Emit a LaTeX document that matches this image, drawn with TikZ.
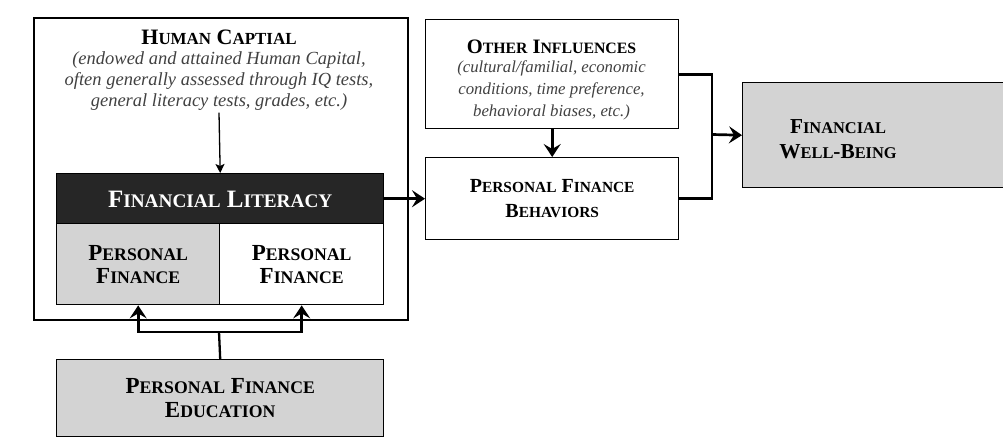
\documentclass[tikz,border=0pt]{standalone}
\usepackage{fontspec}
\setmainfont{Liberation Serif}
\usetikzlibrary{arrows.meta}

\definecolor{boxgrey}{RGB}{211,211,211}
\definecolor{darkfill}{RGB}{38,38,38}
\definecolor{notegrey}{RGB}{65,65,65}

% hand-made bold small caps: full-size initial, capitals at 77% after it
\makeatletter
\newcommand\scw[2]{#1{\fontsize{\fpeval{0.77*\f@size}}{\f@baselineskip}\selectfont\MakeUppercase{#2}}}
\makeatother
\newcommand\tsize[2]{\fontsize{#1}{#2}\selectfont\bfseries}

\tikzset{
  frame/.style={draw, line width=1.4pt, anchor=north west, inner sep=0pt},
  title/.style={align=center, inner sep=1pt},
  note/.style={text=notegrey, align=center, inner sep=2pt},
  link/.style={line width=2.7pt, line join=miter},
  linkarrow/.style={link, -{Stealth[length=13pt,width=17pt,inset=5pt]}},
  thinarrow/.style={line width=1.3pt, -{Stealth[length=9pt,width=9pt,inset=2pt]}}
}

\begin{document}
\begin{tikzpicture}[x=1pt,y=-1pt]
\useasboundingbox (0,0) rectangle (1003,439);
\clip (0,0) rectangle (1003,439);

% human capital frame with the literacy block inside it
\node[frame, line width=1.8pt, minimum width=374pt, minimum height=302pt] (hc) at (33,17) {};
\node[title, font=\tsize{22}{26}] (hctitle) at (219,37) {\scw{H}{uman} \scw{C}{aptial}};
\node[note, font=\fontsize{18.5}{21}\selectfont\itshape] (hcnote) at (219,81) {(endowed and attained Human Capital,\\often generally assessed through IQ tests,\\general literacy tests, grades, etc.)};

\node[frame, fill=darkfill, minimum width=327pt, minimum height=50pt] (fl) at (56,173) {};
\node[title, text=white, font=\tsize{25}{26}] (fltext) at ([yshift=-1pt]fl.center) {\scw{F}{inancial} \scw{L}{iteracy}};

\node[frame, fill=boxgrey, minimum width=163pt, minimum height=81pt] (pfl) at (56,223) {};
\node[frame, fill=white, minimum width=164pt, minimum height=81pt] (pfr) at (219,223) {};
\node[title, font=\tsize{23}{23}] (pfltext) at (pfl.center) {\scw{P}{ersonal}\\\scw{F}{inance}};
\node[title, font=\tsize{23}{23}] (pfrtext) at (pfr.center) {\scw{P}{ersonal}\\\scw{F}{inance}};

% education box below
\node[frame, fill=boxgrey, minimum width=327pt, minimum height=77pt] (edu) at (56,359) {};
\node[title, font=\tsize{23}{24}] (edutext) at (edu.center) {\scw{P}{ersonal} \scw{F}{inance}\\\scw{E}{ducation}};

% other influences and behaviours
\node[frame, minimum width=253pt, minimum height=109pt] (oi) at (425,19) {};
\node[title, font=\tsize{20.5}{25}] (oititle) at (551.5,47) {\scw{O}{ther} \scw{I}{nfluences}};
\node[note, font=\fontsize{16.8}{22}\selectfont\itshape] (oinote) at (551.5,90) {(cultural/familial, economic\\conditions, time preference,\\behavioral biases, etc.)};

\node[frame, minimum width=253pt, minimum height=82pt] (pfb) at (425,157) {};
\node[title, font=\tsize{20}{25}] (pfbtext) at (pfb.center) {\scw{P}{ersonal} \scw{F}{inance}\\\scw{B}{ehaviors}};

% outcome box, running past the right edge
\node[frame, fill=boxgrey, minimum width=280pt, minimum height=105pt] (fwb) at (742,82) {};
\node[title, font=\tsize{21.3}{25}] (fwbtext) at (838,139) {\scw{F}{inancial}\\\scw{W}{ell}-\scw{B}{eing}};

% connectors
\coordinate (join) at (712,134.5);
\coordinate (split) at (219,332);

\draw[thinarrow] (hcnote.south) -- (fl.north);
\draw[linkarrow] (fl.east) -- (pfb.west);
\draw[linkarrow] (oi.south) -- (pfb.north);
\draw[link] (oi.east) -| (join);
\draw[link] (pfb.east) -| (join);
\draw[linkarrow] (join) -- (fwb.west);
\draw[link, line width=2.3pt] (edu.north) -- (split);
\draw[linkarrow] (split) -| (pfl.south);
\draw[linkarrow] (split) -| (pfr.south);
\end{tikzpicture}
\end{document}
